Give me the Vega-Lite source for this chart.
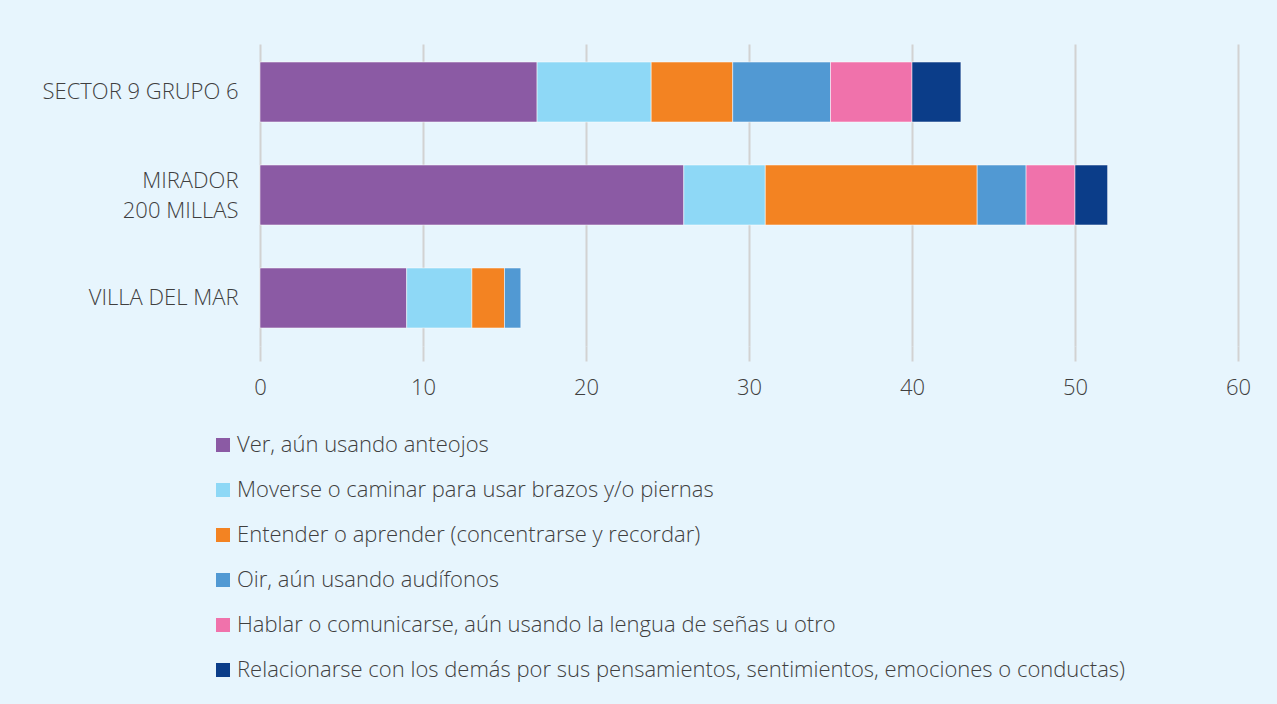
{
  "$schema": "https://vega.github.io/schema/vega-lite/v6.json",
  "autosize": "none",
  "width": 978,
  "height": 302,
  "padding": {"left": 260, "top": 44, "right": 39, "bottom": 358},
  "background": "#e7f5fd",
  "config": {
    "view": {"stroke": null},
    "font": "Open Sans"
  },
  "data": {
    "values": [
      {"zona": "SECTOR 9 GRUPO 6", "tipo": "Ver, aún usando anteojos", "orden": 1, "valor": 17},
      {"zona": "SECTOR 9 GRUPO 6", "tipo": "Moverse o caminar para usar brazos y/o piernas", "orden": 2, "valor": 7},
      {"zona": "SECTOR 9 GRUPO 6", "tipo": "Entender o aprender (concentrarse y recordar)", "orden": 3, "valor": 5},
      {"zona": "SECTOR 9 GRUPO 6", "tipo": "Oir, aún usando audífonos", "orden": 4, "valor": 6},
      {"zona": "SECTOR 9 GRUPO 6", "tipo": "Hablar o comunicarse, aún usando la lengua de señas u otro", "orden": 5, "valor": 5},
      {"zona": "SECTOR 9 GRUPO 6", "tipo": "Relacionarse con los demás por sus pensamientos, sentimientos, emociones o conductas)", "orden": 6, "valor": 3},
      {"zona": "MIRADOR 200 MILLAS", "tipo": "Ver, aún usando anteojos", "orden": 1, "valor": 26},
      {"zona": "MIRADOR 200 MILLAS", "tipo": "Moverse o caminar para usar brazos y/o piernas", "orden": 2, "valor": 5},
      {"zona": "MIRADOR 200 MILLAS", "tipo": "Entender o aprender (concentrarse y recordar)", "orden": 3, "valor": 13},
      {"zona": "MIRADOR 200 MILLAS", "tipo": "Oir, aún usando audífonos", "orden": 4, "valor": 3},
      {"zona": "MIRADOR 200 MILLAS", "tipo": "Hablar o comunicarse, aún usando la lengua de señas u otro", "orden": 5, "valor": 3},
      {"zona": "MIRADOR 200 MILLAS", "tipo": "Relacionarse con los demás por sus pensamientos, sentimientos, emociones o conductas)", "orden": 6, "valor": 2},
      {"zona": "VILLA DEL MAR", "tipo": "Ver, aún usando anteojos", "orden": 1, "valor": 9},
      {"zona": "VILLA DEL MAR", "tipo": "Moverse o caminar para usar brazos y/o piernas", "orden": 2, "valor": 4},
      {"zona": "VILLA DEL MAR", "tipo": "Entender o aprender (concentrarse y recordar)", "orden": 3, "valor": 2},
      {"zona": "VILLA DEL MAR", "tipo": "Oir, aún usando audífonos", "orden": 4, "valor": 1}
    ]
  },
  "mark": {"type": "bar", "stroke": "#ffffff", "strokeOpacity": 0.5, "strokeWidth": 1},
  "encoding": {
    "y": {
      "field": "zona",
      "type": "nominal",
      "sort": ["SECTOR 9 GRUPO 6", "MIRADOR 200 MILLAS", "VILLA DEL MAR"],
      "scale": {"paddingInner": 0.4175, "paddingOuter": 0.175},
      "axis": {
        "title": null,
        "domain": false,
        "ticks": false,
        "labelFontSize": 22,
        "labelFont": "Open Sans",
        "labelFontWeight": 300,
        "labelColor": "#3f3f3f",
        "labelPadding": 22,
        "labelLimit": 300,
        "labelLineHeight": 30,
        "labelOffset": {"condition": {"test": "datum.value == 'MIRADOR 200 MILLAS'", "value": -14}, "value": 0},
        "labelExpr": "datum.label == 'MIRADOR 200 MILLAS' ? ['MIRADOR', '200 MILLAS'] : datum.label"
      }
    },
    "x": {
      "field": "valor",
      "type": "quantitative",
      "aggregate": "sum",
      "stack": "zero",
      "scale": {"domain": [0, 60], "nice": false},
      "axis": {
        "title": null,
        "values": [0, 10, 20, 30, 40, 50, 60],
        "domain": false,
        "grid": true,
        "gridColor": "#d2d2d2",
        "gridWidth": 2,
        "ticks": true,
        "tickColor": "#d2d2d2",
        "tickWidth": 2,
        "tickSize": 15,
        "labelFlush": false,
        "labelFontSize": 22,
        "labelFont": "Open Sans",
        "labelFontWeight": 300,
        "labelColor": "#3f3f3f",
        "labelPadding": 16
      }
    },
    "color": {
      "field": "tipo",
      "type": "nominal",
      "scale": {
        "domain": [
          "Ver, aún usando anteojos",
          "Moverse o caminar para usar brazos y/o piernas",
          "Entender o aprender (concentrarse y recordar)",
          "Oir, aún usando audífonos",
          "Hablar o comunicarse, aún usando la lengua de señas u otro",
          "Relacionarse con los demás por sus pensamientos, sentimientos, emociones o conductas)"
        ],
        "range": ["#8b5aa4", "#8ed8f6", "#f38322", "#5199d3", "#f072ab", "#0b3d89"]
      },
      "legend": {
        "title": null,
        "orient": "none",
        "legendX": -48,
        "legendY": 390,
        "direction": "vertical",
        "columns": 1,
        "symbolType": "square",
        "symbolSize": 196,
        "symbolStrokeWidth": 0,
        "symbolOpacity": 1,
        "labelFontSize": 22,
        "labelFont": "Open Sans",
        "labelFontWeight": 300,
        "labelColor": "#3f3f3f",
        "labelOffset": 3,
        "labelLimit": 1100,
        "rowPadding": 23
      }
    },
    "order": {"field": "orden", "type": "quantitative"}
  }
}
